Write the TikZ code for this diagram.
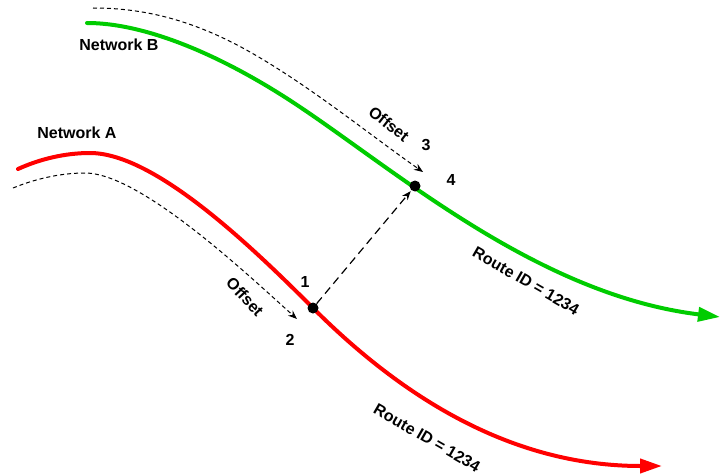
\documentclass[tikz,border=0pt]{standalone}
\usepackage{fontspec}
\setmainfont{Liberation Sans}
\usetikzlibrary{arrows.meta}
\begin{document}
\begin{tikzpicture}[x=1pt,y=1pt,
  lbl/.style={font=\fontsize{16}{18}\selectfont\bfseries, inner sep=0pt},
  route/.style={line width=4pt, line cap=round, -{Triangle[length=22pt,width=14pt]}},
  offs/.style={line width=1pt, dash pattern=on 4pt off 3pt, -{Stealth[length=9pt,width=7pt]}},
  dotn/.style={circle, fill=black, inner sep=0pt, minimum size=11pt}]
\useasboundingbox (0,0) rectangle (722,475);
\coordinate (c1) at (313,167);
\coordinate (c4) at (415,289);
% networks
\draw[route, red] (18,306) .. controls (40,316) and (65,322) .. (90,322)
  .. controls (155,322) and (253,227) .. (c1)
  .. controls (403,77) and (512,9) .. (662,9);
\draw[route, green!80!black] (87,452) .. controls (150,452) and (230,415) .. (300,368)
  .. controls (400,301) and (540,180) .. (720,158);
% offset arrows
\draw[offs] (93,467) .. controls (140,467) and (190,457) .. (250,423)
  .. controls (310,389) and (370,340) .. (423,303);
\draw[offs] (13,287) .. controls (40,298) and (65,302) .. (85,302)
  .. controls (140,302) and (247,201) .. (297,156);
% points and connector
\node[dotn] (p1) at (c1) {};
\node[dotn] (p4) at (c4) {};
\draw[line width=1.2pt, dash pattern=on 8pt off 5pt, -{Stealth[length=9pt,width=7pt]}, shorten >=1pt] (p1) -- (p4);
% labels
\node[lbl] (nb) at (119,430) {Network B};
\node[lbl] (na) at (77,342) {Network A};
\node[lbl] (n1) at (305,193) {1};
\node[lbl] (n2) at (290,135) {2};
\node[lbl] (n3) at (426,330) {3};
\node[lbl] (n4) at (451,295) {4};
\node[lbl, rotate=-38] (o1) at (389,351) {Offset};
\node[lbl, rotate=-47] (o2) at (245,178) {Offset};
\node[lbl, rotate=-30] (r1) at (526,194) {Route ID = 1234};
\node[lbl, rotate=-30] (r2) at (427,37) {Route ID = 1234};
\end{tikzpicture}
\end{document}
